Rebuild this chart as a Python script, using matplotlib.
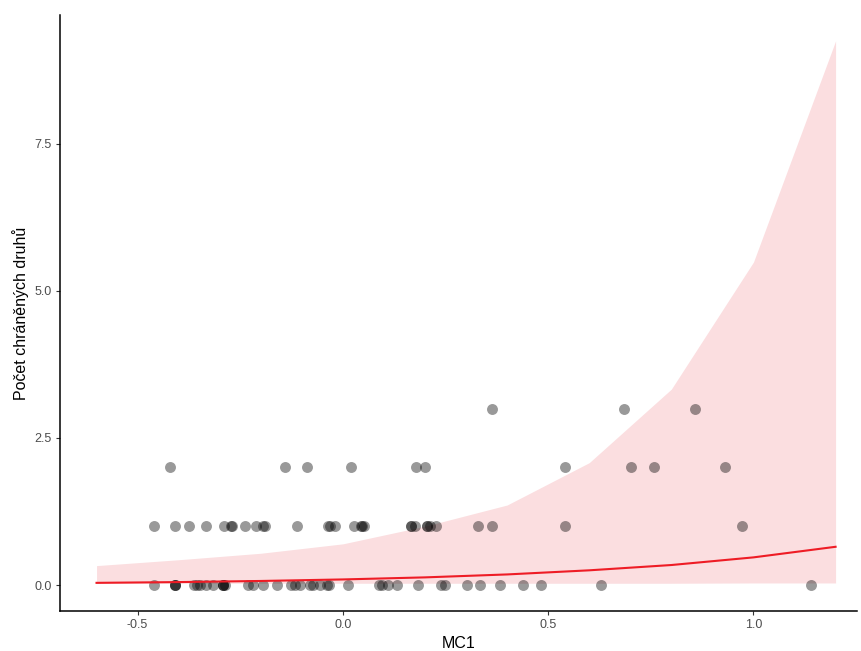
import matplotlib.pyplot as plt

plt.rcParams['font.family'] = ['Liberation Sans', 'DejaVu Sans']

# observed counts of protected species vs. MC1 score
mc1_y0 = [-0.461, -0.408, -0.408, -0.408, -0.362, -0.355, -0.347, -0.333, -0.316,
          -0.291, -0.291, -0.291, -0.286, -0.231, -0.218, -0.194, -0.160, -0.126,
          -0.117, -0.104, -0.080, -0.073, -0.056, -0.039, -0.035, 0.012, 0.087,
          0.095, 0.109, 0.131, 0.182, 0.238, 0.248, 0.303, 0.333, 0.383, 0.439,
          0.483, 0.629, 1.141]
mc1_y1 = [-0.459, -0.408, -0.374, -0.333, -0.289, -0.272, -0.270, -0.238, -0.211,
          -0.194, -0.190, -0.112, -0.036, -0.032, -0.019, 0.027, 0.044, 0.046,
          0.051, 0.167, 0.167, 0.175, 0.204, 0.206, 0.211, 0.226, 0.328, 0.364,
          0.541, 0.971]
mc1_y2 = [-0.422, -0.141, -0.087, 0.019, 0.177, 0.199, 0.541, 0.701, 0.757, 0.930]
mc1_y3 = [0.362, 0.684, 0.857]

mc1 = mc1_y0 + mc1_y1 + mc1_y2 + mc1_y3
count = [0] * len(mc1_y0) + [1] * len(mc1_y1) + [2] * len(mc1_y2) + [3] * len(mc1_y3)

# model prediction with confidence band
grid = [-0.6, -0.4, -0.2, 0.0, 0.2, 0.4, 0.6, 0.8, 1.0, 1.2]
fit = [0.037, 0.050, 0.069, 0.095, 0.13, 0.18, 0.25, 0.34, 0.47, 0.65]
lower = [0.03, 0.03, 0.03, 0.03, 0.03, 0.03, 0.03, 0.03, 0.035, 0.035]
upper = [0.33, 0.43, 0.54, 0.70, 1.00, 1.36, 2.08, 3.33, 5.49, 9.25]

fig = plt.figure(figsize=(8.62, 6.51), dpi=100)
ax = fig.add_axes([0.0696, 0.0614, 0.925, 0.9156])

ax.fill_between(grid, lower, upper, color='#FBDEE0', linewidth=0)
ax.scatter(mc1, count, s=62, color='black', alpha=0.4, linewidths=0, zorder=3)
ax.plot(grid, fit, color='#EE1C25', lw=1.5, zorder=4)

ax.set_xlim(-0.689, 1.253)
ax.set_ylim(-0.442, 9.69)
ax.set_xticks([-0.5, 0.0, 0.5, 1.0])
ax.set_xticklabels(['-0.5', '0.0', '0.5', '1.0'])
ax.set_yticks([0.0, 2.5, 5.0, 7.5])
ax.set_yticklabels(['0.0', '2.5', '5.0', '7.5'])

ax.set_xlabel('MC1', fontsize=11.5, labelpad=3)
ax.set_ylabel('Počet chráněných druhů', fontsize=11.5, labelpad=4)

for side in ['top', 'right']:
    ax.spines[side].set_visible(False)
for side in ['left', 'bottom']:
    ax.spines[side].set_linewidth(1.1)
    ax.spines[side].set_color('black')
ax.tick_params(axis='both', length=3, width=0.8, color='#333333',
               labelcolor='#4D4D4D', labelsize=9, pad=3)

fig.savefig('out.png', dpi=100)
